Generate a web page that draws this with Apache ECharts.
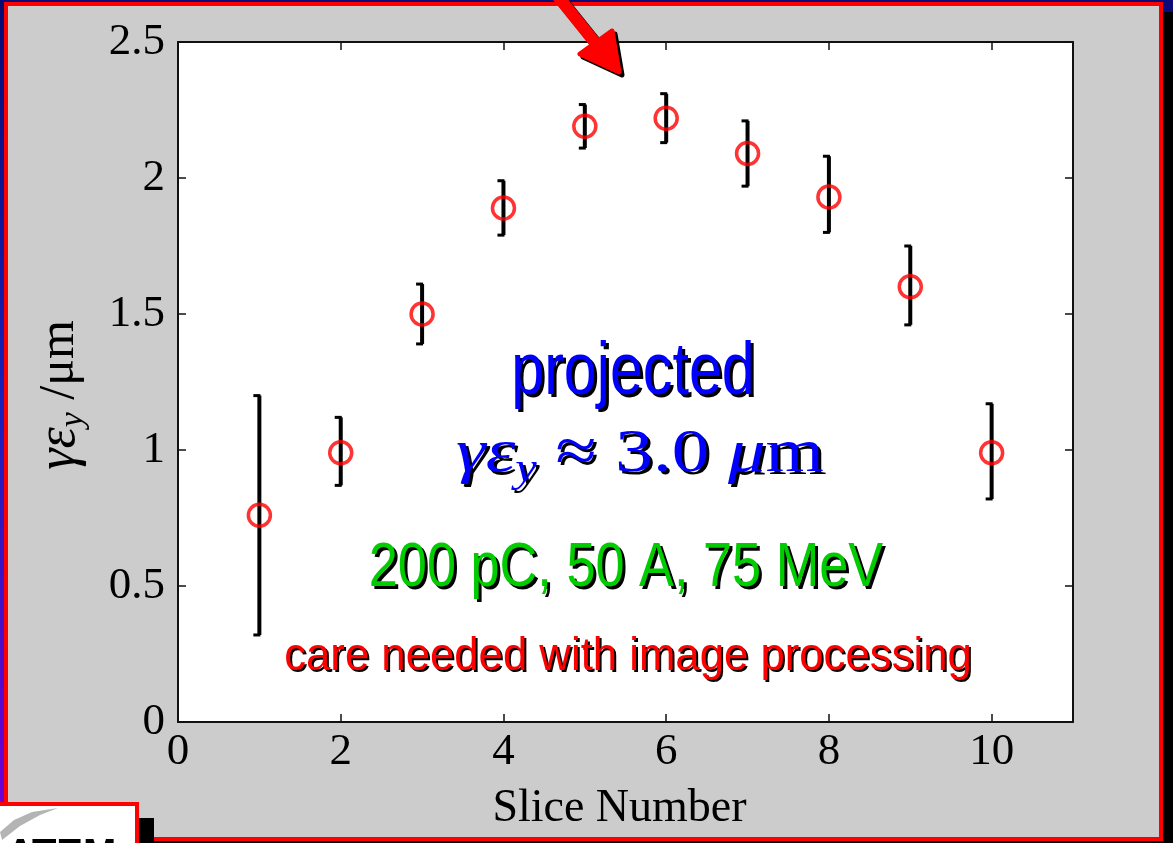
<!DOCTYPE html>
<html><head><meta charset="utf-8">
<script src="https://cdn.jsdelivr.net/npm/echarts@6/dist/echarts.min.js"></script>
<style>html,body{margin:0;padding:0;background:#000;}#c{width:1173px;height:843px;}</style>
</head><body><div id="c"></div>
<script>
// ---- data ----
const slices    = [1, 2, 3, 4, 5, 6, 7, 8, 9, 10];
const emittance = [0.76, 0.99, 1.50, 1.89, 2.19, 2.22, 2.09, 1.93, 1.60, 0.99];
const errLow    = [0.32, 0.87, 1.39, 1.79, 2.11, 2.13, 1.97, 1.80, 1.46, 0.82];
const errHigh   = [1.20, 1.12, 1.61, 1.99, 2.27, 2.31, 2.21, 2.08, 1.75, 1.17];
const xRange = [0, 11];
const yRange = [0, 2.5];
const xLabel = 'Slice Number';
const yLabel = '{g|γε}{s|y}{n| /μm}';
const noteProjected = 'projected';
const noteEmit = '{g|γε}{s|y}{n| ≈ 3.0 }{g|μ}{n|m}';
const noteBeam = '200 pC, 50 A, 75 MeV';
const noteCare = 'care needed with image processing';

const serif = '"Liberation Serif", "Times New Roman", serif';

const chart = echarts.init(document.getElementById('c'), null, {renderer: 'canvas'});

const axisLineStyle = {show: true, onZero: false, lineStyle: {color: '#111', width: 2}};
const tickStyle = {show: true, inside: true, length: 8, lineStyle: {color: '#111', width: 1.5}};
const labelStyle = {color: '#000', fontSize: 45, fontFamily: serif};

const scatterData = slices.map((s, i) => [s, emittance[i]]);
const errData = slices.map((s, i) => [s, errLow[i], errHigh[i]]);

// text with a hard black drop shadow (drawn as a second, offset copy)
function shadowText(x, y, scaleX, style, d, richFn) {
  const sh = Object.assign({}, style, {fill: '#000'});
  if (style.rich) sh.rich = richFn('#000');
  return [
    {type: 'text', z: 99, x: x + d, y: y + d, scaleX: scaleX, style: sh},
    {type: 'text', z: 100, x: x, y: y, scaleX: scaleX, style: style}
  ];
}
function emitRich(c) {
  return {
    g: {fontFamily: serif, fontStyle: 'italic', fontSize: 62, fill: c, lineHeight: 70},
    s: {fontFamily: serif, fontStyle: 'italic', fontSize: 40, fill: c, lineHeight: 40, verticalAlign: 'bottom'},
    n: {fontFamily: serif, fontSize: 62, fill: c, lineHeight: 70}
  };
}

const arrowShaft = {x1: 556, y1: -6, x2: 601, y2: 50};
const arrowHead = [[580, 54], [619, 72], [612, 31]];

chart.setOption({
  backgroundColor: '#cccccc',
  animation: false,
  grid: {left: 178, right: 100, top: 42, bottom: 121, show: true, backgroundColor: '#fff', borderWidth: 0},
  xAxis: [
    {type: 'value', position: 'bottom', min: xRange[0], max: xRange[1], interval: 2,
     axisLine: axisLineStyle, axisTick: tickStyle, splitLine: {show: false},
     axisLabel: Object.assign({margin: 8, showMaxLabel: false}, labelStyle),
     name: xLabel, nameLocation: 'middle', nameGap: 64,
     nameTextStyle: {color: '#000', fontSize: 46, fontFamily: serif, padding: [0, 12, 0, 0]}},
    {type: 'value', position: 'top', min: xRange[0], max: xRange[1], interval: 2,
     axisLine: axisLineStyle, axisTick: tickStyle, splitLine: {show: false}, axisLabel: {show: false}}
  ],
  yAxis: [
    {type: 'value', position: 'left', min: yRange[0], max: yRange[1], interval: 0.5,
     axisLine: axisLineStyle, axisTick: tickStyle, splitLine: {show: false},
     axisLabel: Object.assign({margin: 13}, labelStyle),
     name: yLabel, nameLocation: 'middle', nameGap: 88,
     nameTextStyle: {color: '#000', fontFamily: serif, fontSize: 50, padding: [0, 26, 0, 0],
       rich: {
         g: {fontFamily: serif, fontStyle: 'italic', fontSize: 54, color: '#000', lineHeight: 60},
         s: {fontFamily: serif, fontStyle: 'italic', fontSize: 34, color: '#000', lineHeight: 34, verticalAlign: 'bottom'},
         n: {fontFamily: serif, fontSize: 50, color: '#000', lineHeight: 60}
       }}},
    {type: 'value', position: 'right', min: yRange[0], max: yRange[1], interval: 0.5,
     axisLine: axisLineStyle, axisTick: tickStyle, splitLine: {show: false}, axisLabel: {show: false}}
  ],
  series: [
    {type: 'custom', xAxisIndex: 0, yAxisIndex: 0, z: 2, data: errData,
     renderItem: function (params, api) {
       const x = api.value(0);
       const lo = api.coord([x, api.value(1)]);
       const hi = api.coord([x, api.value(2)]);
       const st = {stroke: '#000', lineWidth: 4};
       const cs = {stroke: '#000', lineWidth: 3};
       return {type: 'group', children: [
         {type: 'line', shape: {x1: lo[0], y1: lo[1], x2: hi[0], y2: hi[1]}, style: st},
         {type: 'line', shape: {x1: hi[0] - 6, y1: hi[1], x2: hi[0] + 1, y2: hi[1]}, style: cs},
         {type: 'line', shape: {x1: lo[0] - 6, y1: lo[1], x2: lo[0] + 1, y2: lo[1]}, style: cs}
       ]};
     }},
    {type: 'scatter', xAxisIndex: 0, yAxisIndex: 0, z: 3, data: scatterData,
     symbol: 'circle', symbolSize: 22,
     itemStyle: {color: 'rgba(0,0,0,0)', borderColor: '#ff0000', borderWidth: 3.5}}
  ],
  graphic: [].concat(
    [
      // page border strips
      {type: 'rect', z: 1, shape: {x: 0, y: 0, width: 4, height: 805},
       style: {fill: new echarts.graphic.LinearGradient(0, 0, 0, 1, [{offset: 0, color: '#0a0a70'}, {offset: 0.5, color: '#1a20b8'}, {offset: 1, color: '#7000d0'}])}},
      {type: 'rect', z: 1, shape: {x: 0, y: 0, width: 1173, height: 2}, style: {fill: '#0a0a78'}},
      {type: 'rect', z: 1, shape: {x: 1163, y: 0, width: 10, height: 843}, style: {fill: '#000'}},
      {type: 'rect', z: 1, shape: {x: 1163, y: 0, width: 10, height: 12}, style: {fill: '#0a0a78'}},
      {type: 'rect', z: 1, shape: {x: 0, y: 841, width: 1173, height: 2}, style: {fill: '#000'}},
      // red frame
      {type: 'rect', z: 2, shape: {x: 6, y: 4, width: 1155, height: 835}, style: {fill: 'none', stroke: '#ff0000', lineWidth: 4}},
      // logo box
      {type: 'rect', z: 3, shape: {x: -4, y: 804, width: 141, height: 50}, style: {fill: '#fff', stroke: '#ff0000', lineWidth: 4}},
      {type: 'polygon', z: 4, shape: {points: [[0, 832], [14, 820], [32, 812], [58, 808], [40, 815], [20, 826], [2, 840]]}, style: {fill: '#b4b4b4'}},
      {type: 'text', z: 4, x: 6, y: 836, style: {text: 'ATEM', fill: '#000', font: 'bold 40px "Liberation Sans"', align: 'left', verticalAlign: 'top'}},
      {type: 'rect', z: 3, shape: {x: 139, y: 818, width: 15, height: 25}, style: {fill: '#000'}},
      // arrow: shadow copies then red
      {type: 'line', z: 98, x: 3, y: 3, shape: arrowShaft, style: {stroke: '#000', lineWidth: 12, lineCap: 'round'}},
      {type: 'polygon', z: 98, x: 3, y: 3, shape: {points: arrowHead}, style: {fill: '#000', stroke: '#000', lineWidth: 5, lineJoin: 'round'}},
      {type: 'line', z: 100, shape: arrowShaft, style: {stroke: '#ff0000', lineWidth: 12, lineCap: 'round'}},
      {type: 'polygon', z: 101, shape: {points: arrowHead}, style: {fill: '#ff0000', stroke: '#ff0000', lineWidth: 5, lineJoin: 'round'}}
    ],
    shadowText(633, 374, 0.8, {text: noteProjected, fill: '#0000ff', font: '74px "Liberation Sans"', align: 'center', verticalAlign: 'middle'}, 3),
    shadowText(640, 455, 1.21, {text: noteEmit, fill: '#0000ff', align: 'center', verticalAlign: 'middle', rich: emitRich('#0000ff')}, 3, emitRich),
    shadowText(626, 569, 0.83, {text: noteBeam, fill: '#00cc00', font: '63px "Liberation Sans"', align: 'center', verticalAlign: 'middle'}, 3),
    shadowText(628, 657, 0.93, {text: noteCare, fill: '#ff0000', font: '47px "Liberation Sans"', align: 'center', verticalAlign: 'middle'}, 2)
  )
});
</script>
</body></html>
